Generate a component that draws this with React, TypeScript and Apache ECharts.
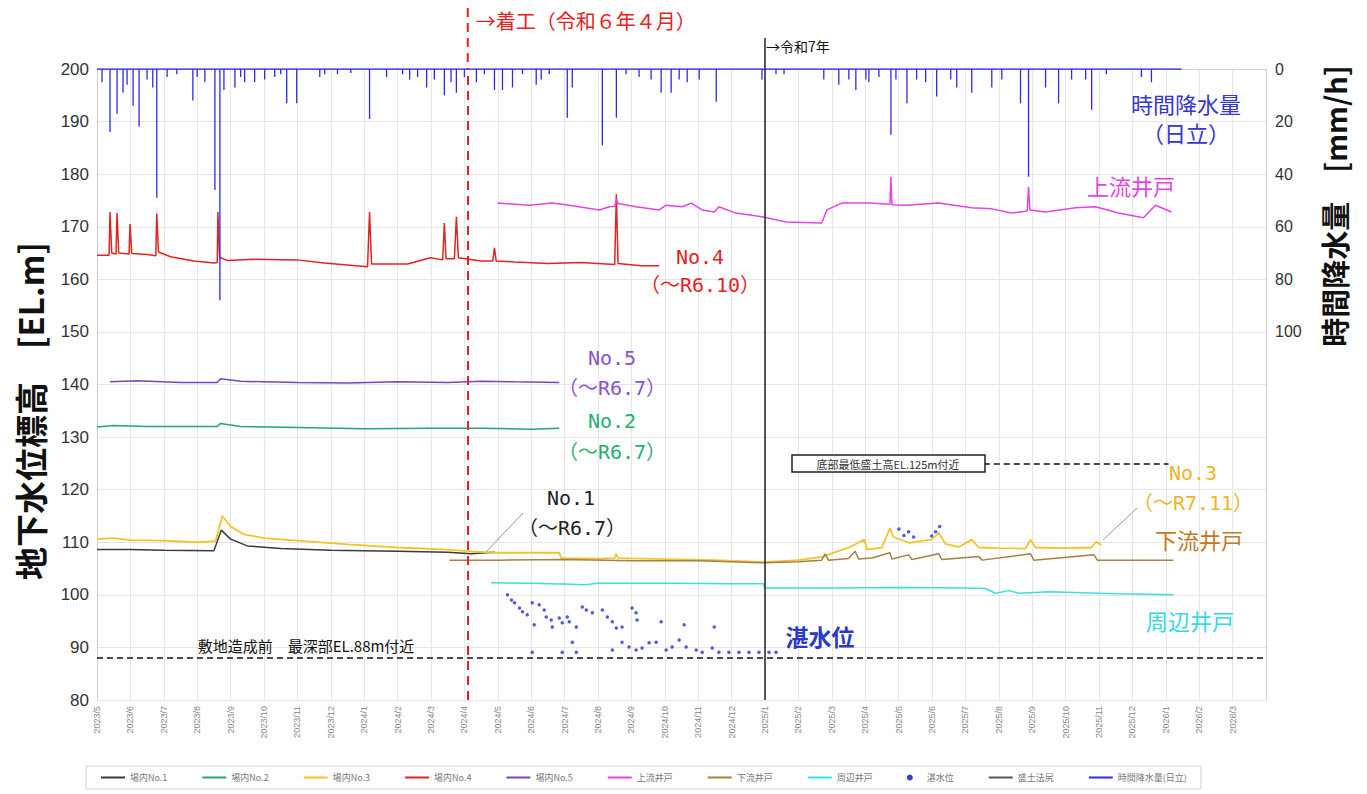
import React, { useEffect, useRef } from "react";
import * as echarts from "echarts";

// x values are months elapsed since 2023/5/1 (0 = 2023/5, 11 = 2024/4, 20 = 2025/1)
const TICK_LABELS = [
  "2023/5", "2023/6", "2023/7", "2023/8", "2023/9", "2023/10", "2023/11", "2023/12",
  "2024/1", "2024/2", "2024/3", "2024/4", "2024/5", "2024/6", "2024/7", "2024/8",
  "2024/9", "2024/10", "2024/11", "2024/12", "2025/1", "2025/2", "2025/3", "2025/4",
  "2025/5", "2025/6", "2025/7", "2025/8", "2025/9", "2025/10", "2025/11", "2025/12",
  "2026/1", "2026/2", "2026/3",
];
const X_MAX = 35;
const START_WORK = 11.1; // 着工 R6.4
const REIWA7 = 20; // 2025/1

const SERIES_NAMES = [
  "場内No.1", "場内No.2", "場内No.3", "場内No.4", "場内No.5",
  "上流井戸", "下流井戸", "周辺井戸", "湛水位", "盛土法尻", "時間降水量(日立)",
];

const NO1: [number, number][] = [
  [0, 108.6], [1, 108.6], [2, 108.5], [3.5, 108.4], [3.72, 112.3], [4.0, 110.6], [4.5, 109.3],
  [5.5, 108.8], [7, 108.5], [9, 108.3], [10.5, 108.1], [11.2, 107.8], [11.9, 108.1],
];
const NO2: [number, number][] = [
  [0, 131.9], [0.5, 132.2], [1.5, 132.0], [3.6, 132.0], [3.7, 132.6], [4.3, 132.0], [6, 131.8],
  [8, 131.6], [10, 131.7], [11.5, 131.7], [13, 131.5], [13.84, 131.7],
];
const NO3: [number, number][] = [
  [0, 110.6], [0.5, 110.8], [1.0, 110.4], [2.0, 110.3], [3.0, 110.0], [3.55, 110.2], [3.75, 115.0],
  [4.0, 113.0], [4.4, 111.5], [5.0, 110.8], [6.0, 110.3], [7.5, 109.6], [9.0, 109.0], [10.5, 108.6],
  [11.3, 108.2], [11.9, 108.0], [13.84, 108.0], [13.9, 107.0], [15.0, 106.9], [15.5, 107.0],
  [15.55, 107.8], [15.6, 107.0], [17, 106.8], [18.5, 106.6], [20.0, 106.2], [21.0, 106.6],
  [21.7, 107.2], [22.15, 108.2], [22.55, 109.1], [22.97, 110.5], [23.06, 108.6], [23.5, 109.0],
  [23.74, 112.7], [23.85, 111.0], [24.3, 109.9], [24.99, 110.5], [25.2, 111.8], [25.4, 109.7],
  [25.8, 109.1], [26.19, 110.5], [26.4, 109.0], [27.0, 108.9], [27.8, 108.8], [27.95, 110.5],
  [28.1, 109.0], [29.0, 108.9], [29.77, 109.0], [29.92, 110.1], [30.07, 109.5],
];
const NO4: [number, number][] = [
  [0, 164.6], [0.36, 164.6], [0.39, 172.8], [0.44, 165.0], [0.57, 164.8], [0.6, 172.6], [0.65, 165.0],
  [0.96, 164.8], [0.99, 170.5], [1.04, 164.9], [1.5, 164.7], [1.76, 164.5], [1.79, 172.5],
  [1.84, 165.2], [2.2, 164.3], [2.9, 163.5], [3.5, 163.1], [3.6, 163.2], [3.62, 172.8], [3.67, 164.2],
  [3.9, 163.6], [4.7, 163.8], [5.98, 163.7], [6.8, 163.1], [8.1, 162.4], [8.16, 172.8], [8.22, 162.9],
  [9.3, 162.9], [9.98, 164.1], [10.35, 163.7], [10.4, 170.7], [10.45, 163.9], [10.7, 163.9],
  [10.76, 171.9], [10.82, 164.1], [11.5, 163.5], [11.85, 163.5], [11.9, 166.0], [11.95, 163.5],
  [12.5, 163.3], [13.5, 163.0], [14.5, 163.2], [15.5, 162.8], [15.55, 176.2], [15.6, 163.0],
  [16.3, 162.6], [16.83, 162.6],
];
const NO5: [number, number][] = [
  [0.39, 140.5], [1.2, 140.7], [2.5, 140.4], [3.6, 140.4], [3.7, 141.1], [4.3, 140.6], [6, 140.4],
  [7.5, 140.3], [9, 140.5], [10.5, 140.4], [11.5, 140.6], [12.5, 140.5], [13.84, 140.4],
];
const UPSTREAM: [number, number][] = [
  [11.99, 174.5], [12.94, 174.1], [13.63, 174.5], [14.14, 174.1], [15.04, 173.2], [15.34, 173.8],
  [15.5, 173.9], [15.55, 175.2], [15.6, 174.4], [16.14, 173.8], [16.83, 173.2], [17.04, 174.1],
  [17.52, 173.8], [17.79, 174.5], [18.12, 173.2], [18.48, 172.8], [18.62, 173.8], [19.13, 172.6],
  [19.91, 171.9], [20.63, 170.9], [21.7, 170.7], [21.85, 173.2], [22.3, 174.5], [23.11, 174.5],
  [23.74, 174.3], [23.77, 179.5], [23.8, 174.2], [24.22, 174.1], [25.2, 174.5], [26.19, 173.6],
  [26.8, 173.4], [27.38, 172.6], [27.85, 173.0], [27.89, 177.6], [27.93, 173.2], [28.4, 172.8],
  [29.3, 173.6], [29.9, 173.8], [30.58, 172.6], [31.33, 171.7], [31.69, 174.1], [32.17, 172.8],
];
const DOWNSTREAM: [number, number][] = [
  [10.55, 106.6], [12, 106.6], [14, 106.7], [16, 106.5], [18, 106.5], [19.9, 106.1], [21, 106.3],
  [21.7, 106.6], [21.8, 107.8], [21.9, 106.6], [22.5, 106.9], [22.7, 108.3], [22.8, 106.8],
  [23.2, 107.0], [23.74, 108.0], [23.8, 106.8], [24.3, 107.6], [24.4, 106.7], [25.2, 107.8],
  [25.3, 106.7], [26.4, 107.3], [26.5, 106.6], [27.95, 107.8], [28.05, 106.6], [29.85, 107.6],
  [29.95, 106.6], [32.23, 106.6],
];
const PERIMETER: [number, number][] = [
  [11.8, 102.3], [13, 102.2], [14.2, 102.0], [14.6, 101.9], [15, 102.2], [17, 102.2], [19, 102.1],
  [19.95, 102.1], [20.0, 101.3], [22, 101.3], [24, 101.4], [26, 101.3], [26.6, 101.2], [26.9, 100.3],
  [27.3, 100.8], [27.6, 100.3], [28.5, 100.6], [29.5, 100.4], [30.5, 100.2], [31.5, 100.1],
  [32.23, 100.0],
];
const PONDED: [number, number][] = [
  [12.29, 100.0], [12.41, 99.0], [12.5, 98.5], [12.65, 97.5], [12.74, 96.8], [12.88, 96.2],
  [13.03, 98.5], [13.03, 89.1], [13.09, 94.3], [13.24, 98.1], [13.39, 97.1], [13.45, 95.8],
  [13.6, 95.2], [13.63, 93.9], [13.84, 95.6], [13.93, 94.7], [13.93, 89.1], [14.08, 95.8],
  [14.14, 94.9], [14.23, 91.0], [14.35, 93.9], [14.35, 89.1], [14.53, 97.7], [14.65, 97.1],
  [14.83, 96.6], [15.13, 97.1], [15.28, 95.8], [15.43, 94.9], [15.43, 89.5], [15.55, 93.7],
  [15.72, 93.9], [15.72, 91.0], [15.93, 90.1], [16.02, 97.5], [16.14, 96.6], [16.14, 89.5],
  [16.17, 95.2], [16.32, 89.9], [16.53, 90.9], [16.74, 91.0], [16.89, 94.9], [17.04, 89.5],
  [17.22, 90.1], [17.43, 91.4], [17.58, 94.3], [17.64, 90.1], [17.94, 89.5], [18.12, 89.1],
  [18.42, 89.9], [18.48, 93.9], [18.62, 89.1], [18.92, 89.1], [19.22, 89.1], [19.52, 89.1],
  [19.82, 89.1], [20.12, 89.1], [20.33, 89.1],
  [24.01, 112.5], [24.16, 111.3], [24.3, 112.0], [24.45, 111.0], [24.99, 111.2], [25.11, 112.0],
  [25.23, 113.0],
];
// hourly rainfall events (month, mm/h)
const RAIN_EVENTS: [number, number][] = [
  [0.15, 5], [0.39, 24], [0.6, 17], [0.78, 9], [0.9, 6], [1.08, 14], [1.26, 22], [1.5, 4], [1.67, 7],
  [1.79, 49], [2.1, 3], [2.39, 2], [2.87, 12], [3.0, 3], [3.23, 5], [3.53, 46], [3.68, 88], [3.8, 8],
  [4.13, 7], [4.3, 3], [4.42, 5], [4.72, 5], [5.02, 4], [5.32, 3], [5.5, 2], [5.68, 13], [5.98, 13],
  [6.67, 3], [6.82, 2], [7.2, 2], [7.6, 1.5], [8.16, 19], [8.67, 3], [9.15, 2], [9.36, 4], [9.6, 3],
  [9.87, 7], [10.1, 4], [10.4, 10], [10.6, 5], [10.76, 9], [11.0, 3], [11.36, 5], [11.6, 2], [11.9, 8],
  [12.14, 8], [12.44, 7], [12.74, 2], [13.15, 6], [13.3, 4], [13.54, 2], [14.08, 18.5], [14.23, 7],
  [15.13, 29], [15.55, 18.5], [15.84, 2], [16.23, 3], [16.59, 4], [16.89, 9], [17.19, 9], [17.43, 4],
  [17.67, 5], [18.03, 4], [18.54, 12.5], [19.91, 4], [20.33, 2], [20.57, 2], [21.76, 4], [22.21, 6],
  [22.51, 4], [22.72, 8], [23.02, 4], [23.11, 5], [23.41, 3], [23.77, 25], [23.92, 4], [24.25, 13],
  [24.54, 4], [24.81, 5], [25.14, 10.5], [25.56, 4], [25.74, 7], [26.19, 9], [26.79, 7], [27.09, 4],
  [27.65, 13], [27.89, 41], [28.4, 7], [28.79, 13], [29.18, 4], [29.6, 4], [29.78, 15.5], [30.22, 2],
  [31.27, 3], [31.57, 5],
];
const RAIN_START = 0;
const RAIN_END = 32.47;
const DEEPEST_EL = 88;
const FILL_EL = 125;
const FILL_LINE_FROM = 26.25;
const FILL_LINE_TO = 32.08;

const COLORS = {
  no1: "#3a3a3a",
  no2: "#22a86e",
  no3: "#f2c42c",
  no4: "#e42222",
  no5: "#7448b8",
  up: "#e444e4",
  down: "#a88040",
  peri: "#36e0e0",
  pond: "#3440cc",
  fill: "#555555",
  rain: "#2b2be8",
};

const JP = '"Noto Sans CJK JP", "Noto Sans", sans-serif';
const MONO = '"DejaVu Sans Mono", "Noto Sans CJK JP", monospace';

function rainPath(): [number, number][] {
  const out: [number, number][] = [[RAIN_START, 0]];
  [...RAIN_EVENTS].sort((a, b) => a[0] - b[0]).forEach(([m, v]) => {
    out.push([m, 0], [m, v], [m, 0]);
  });
  out.push([RAIN_END, 0]);
  return out;
}

function lineSeries(name: string, data: [number, number][], color: string, width = 1.5): any {
  return {
    name,
    type: "line",
    data,
    symbol: "none",
    color,
    lineStyle: { color, width },
    emphasis: { disabled: true },
  };
}

export default function App() {
  const ref = useRef<HTMLDivElement>(null);

  useEffect(() => {
    if (!ref.current) return;
    const chart = echarts.init(ref.current, undefined, { renderer: "svg" });

    const legendData = SERIES_NAMES.map((name) =>
      name === "湛水位"
        ? { name, itemStyle: { opacity: 1 } }
        : { name, itemStyle: { opacity: 0 } }
    );

    const option: any = {
      animation: false,
      backgroundColor: "#ffffff",
      grid: { left: 97, right: 101, top: 69, bottom: 94 },
      legend: {
        data: legendData,
        bottom: 5,
        left: 86,
        itemGap: 34,
        itemWidth: 24,
        itemHeight: 6,
        textStyle: { fontSize: 9, color: "#777", fontFamily: JP },
        borderColor: "#d4d4d4",
        borderWidth: 1,
        padding: [7, 14, 7, 14],
      },
      xAxis: {
        type: "value",
        min: 0,
        max: X_MAX,
        interval: 1,
        axisLine: { show: true, lineStyle: { color: "#d0d0d0" } },
        axisTick: { show: false },
        splitLine: { show: true, lineStyle: { color: "#e6e6e6", width: 1 } },
        axisLabel: {
          rotate: 90,
          fontSize: 9,
          color: "#888",
          margin: 6,
          fontFamily: '"Liberation Sans", Arial, sans-serif',
          formatter: (v: number) => TICK_LABELS[Math.round(v)] ?? "",
        },
      },
      yAxis: [
        {
          type: "value",
          min: 80,
          max: 200,
          interval: 10,
          axisLine: { show: true, lineStyle: { color: "#d0d0d0" } },
          axisTick: { show: false },
          splitLine: { show: true, lineStyle: { color: "#e6e6e6", width: 1 } },
          axisLabel: {
            fontSize: 17,
            color: "#333",
            margin: 8,
            fontFamily: '"Liberation Sans", Arial, sans-serif',
          },
        },
        {
          type: "value",
          min: 0,
          max: 240,
          interval: 20,
          inverse: true,
          position: "right",
          axisLine: { show: true, lineStyle: { color: "#d0d0d0" } },
          axisTick: { show: false },
          splitLine: { show: false },
          axisLabel: {
            fontSize: 16,
            color: "#333",
            margin: 9,
            fontFamily: '"Liberation Sans", Arial, sans-serif',
            formatter: (v: number) => (v <= 100 ? String(v) : ""),
          },
        },
      ],
      series: [
        lineSeries("場内No.1", NO1, COLORS.no1),
        lineSeries("場内No.2", NO2, COLORS.no2),
        lineSeries("場内No.3", NO3, COLORS.no3, 1.8),
        lineSeries("場内No.4", NO4, COLORS.no4),
        lineSeries("場内No.5", NO5, COLORS.no5),
        lineSeries("上流井戸", UPSTREAM, COLORS.up),
        lineSeries("下流井戸", DOWNSTREAM, COLORS.down),
        lineSeries("周辺井戸", PERIMETER, COLORS.peri),
        {
          name: "湛水位",
          type: "scatter",
          data: PONDED,
          symbol: "circle",
          symbolSize: 3.5,
          color: COLORS.pond,
          itemStyle: { color: COLORS.pond, opacity: 0.85 },
          emphasis: { disabled: true },
        },
        {
          name: "盛土法尻",
          type: "line",
          data: [],
          symbol: "none",
          color: COLORS.fill,
          lineStyle: { color: COLORS.fill, width: 1.5 },
          markLine: {
            silent: true,
            symbol: "none",
            label: { show: false },
            data: [
              [
                { coord: [0, DEEPEST_EL], lineStyle: { color: "#111", type: [6, 4], width: 1.5 } },
                { coord: [X_MAX, DEEPEST_EL] },
              ],
              [
                { coord: [FILL_LINE_FROM, FILL_EL], lineStyle: { color: "#111", type: [6, 4], width: 1.5 } },
                { coord: [FILL_LINE_TO, FILL_EL] },
              ],
              {
                xAxis: START_WORK,
                lineStyle: { color: "#e42222", type: [9, 6], width: 2 },
              },
              {
                xAxis: REIWA7,
                lineStyle: { color: "#222", type: "solid", width: 1.5 },
              },
            ],
          },
        },
        {
          name: "時間降水量(日立)",
          type: "line",
          yAxisIndex: 1,
          data: rainPath(),
          symbol: "none",
          color: COLORS.rain,
          lineStyle: { color: COLORS.rain, width: 1.3 },
          emphasis: { disabled: true },
          z: 3,
        },
      ],
    };
    chart.setOption(option);

    const xr = chart.convertToPixel({ xAxisIndex: 0 }, START_WORK) as number;
    const xb = chart.convertToPixel({ xAxisIndex: 0 }, REIWA7) as number;
    const top = chart.convertToPixel({ yAxisIndex: 0 }, 200) as number;

    const txt = (text: string, x: number, y: number, fill: string, fontSize: number, extra: any = {}) => ({
      type: "text",
      x,
      y,
      silent: true,
      style: {
        text,
        fill,
        fontSize,
        fontFamily: extra.fontFamily ?? JP,
        fontWeight: extra.fontWeight ?? "normal",
        textAlign: extra.align ?? "center",
        textVerticalAlign: "middle",
      },
      rotation: extra.rotation ?? 0,
      z: 100,
    });

    const graphic: any[] = [
      {
        type: "line",
        silent: true,
        shape: { x1: xr, y1: 8, x2: xr, y2: top },
        style: { stroke: "#e42222", lineWidth: 2, lineDash: [9, 6] },
      },
      {
        type: "line",
        silent: true,
        shape: { x1: xb, y1: 38, x2: xb, y2: top },
        style: { stroke: "#222", lineWidth: 1.5 },
      },
      txt("→着工（令和６年４月）", xr + 8, 20, "#e42222", 20, { align: "left" }),
      txt("→令和7年", xb + 1, 46, "#111", 14, { align: "left" }),
      txt("地下水位標高　[EL.m]", 30, 411, "#111", 33, { rotation: Math.PI / 2, fontWeight: "bold" }),
      txt("時間降水量　[mm/h]", 1334, 206, "#111", 29, { rotation: Math.PI / 2, fontWeight: "bold" }),
      txt("時間降水量", 1186, 103, "#3636d0", 22),
      txt("（日立）", 1186, 132, "#3636d0", 22),
      txt("上流井戸", 1131, 185, "#e444e4", 22),
      txt("No.4", 700, 257, "#e42222", 20, { fontFamily: MONO }),
      txt("（～R6.10）", 700, 285, "#e42222", 20, { fontFamily: MONO }),
      txt("No.5", 612, 358, "#8a52d0", 20, { fontFamily: MONO }),
      txt("（～R6.7）", 612, 388, "#8a52d0", 20, { fontFamily: MONO }),
      txt("No.2", 612, 421, "#22b070", 20, { fontFamily: MONO }),
      txt("（～R6.7）", 612, 452, "#22b070", 20, { fontFamily: MONO }),
      txt("No.1", 571, 498, "#222", 20, { fontFamily: MONO }),
      txt("（～R6.7）", 572, 528, "#222", 20, { fontFamily: MONO }),
      txt("No.3", 1193, 473, "#f0b428", 20, { fontFamily: MONO }),
      txt("（～R7.11）", 1193, 503, "#f0b428", 20, { fontFamily: MONO }),
      txt("下流井戸", 1199, 539, "#c27a26", 22),
      txt("湛水位", 820, 636, "#2a3ac8", 23, { fontWeight: "bold" }),
      txt("周辺井戸", 1190, 620, "#36d8e4", 22),
      txt("敷地造成前　最深部EL.88m付近", 306, 645, "#111", 15),
      {
        type: "line",
        silent: true,
        shape: { x1: 523, y1: 513, x2: 486, y2: 552 },
        style: { stroke: "#999", lineWidth: 1 },
      },
      {
        type: "line",
        silent: true,
        shape: { x1: 1137, y1: 508, x2: 1103, y2: 540 },
        style: { stroke: "#999", lineWidth: 1 },
      },
      {
        type: "rect",
        silent: true,
        shape: { x: 792, y: 455, width: 193, height: 17 },
        style: { fill: "#fff", stroke: "#222", lineWidth: 1.5 },
        z: 99,
      },
      txt("底部最低盛土高EL.125m付近", 888, 464, "#333", 11),
    ];
    chart.setOption({ graphic });

    return () => chart.dispose();
  }, []);

  return (
    <div
      ref={ref}
      style={{ position: "fixed", left: 0, top: 0, width: 1367, height: 794, background: "#fff" }}
    />
  );
}
